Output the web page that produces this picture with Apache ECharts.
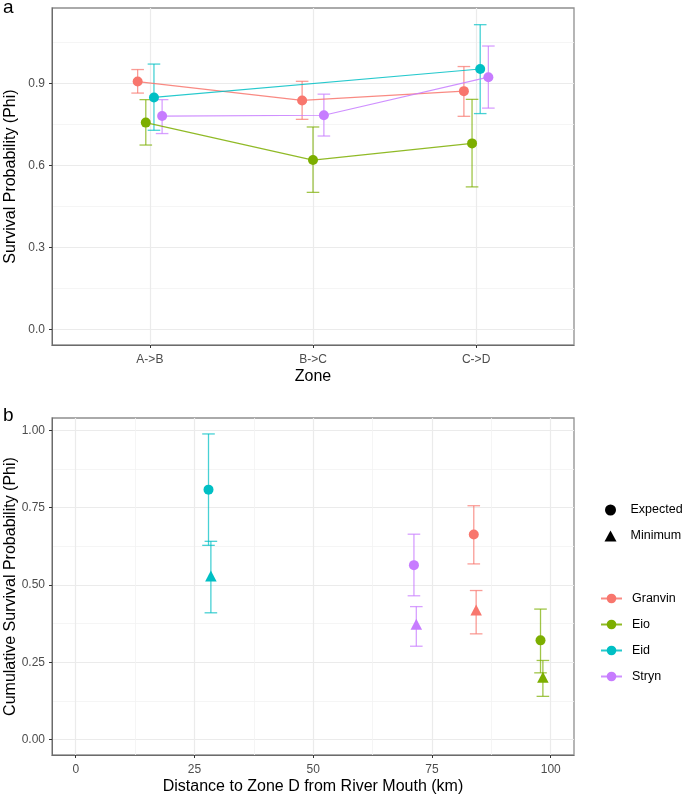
<!DOCTYPE html>
<html><head><meta charset="utf-8">
<script src="https://cdn.jsdelivr.net/npm/echarts@6/dist/echarts.min.js"></script>
<style>html,body{margin:0;padding:0;background:#fff}#c{width:685px;height:797px}</style>
</head><body><div id="c"></div>
<script>
// ---------- data ----------
const sites = ['Granvin', 'Eio', 'Eid', 'Stryn'];
const siteColors = ['#F8766D', '#7CAE00', '#00BFC4', '#C77CFF'];
const zones = ['A->B', 'B->C', 'C->D'];

// Panel a: survival per zone (null = no estimate)
const phiGranvin  = [0.907, 0.838, 0.872];
const lowGranvin  = [0.865, 0.769, 0.780];
const highGranvin = [0.951, 0.908, 0.962];
const phiEio  = [0.757, 0.620, 0.681];
const lowEio  = [0.675, 0.502, 0.522];
const highEio = [0.841, 0.741, 0.842];
const phiEid  = [0.849, null, 0.953];
const lowEid  = [0.729, null, 0.790];
const highEid = [0.971, null, 1.115];
const phiStryn  = [0.781, 0.784, 0.923];
const lowStryn  = [0.717, 0.708, 0.810];
const highStryn = [0.841, 0.861, 1.037];

// Panel b: cumulative survival vs distance (order: Granvin, Eio, Eid, Stryn)
const estimateTypes = ['Expected', 'Minimum'];
const distanceKm = [84.05, 98.1, 28.2, 71.45];
const cumExpected     = [0.663, 0.321, 0.808, 0.564];
const cumExpectedLow  = [0.568, 0.216, 0.628, 0.465];
const cumExpectedHigh = [0.756, 0.422, 0.988, 0.664];
const cumMinimum      = [0.413, 0.196, 0.523, 0.367];
const cumMinimumLow   = [0.342, 0.140, 0.410, 0.302];
const cumMinimumHigh  = [0.482, 0.256, 0.641, 0.430];

// tick labels
const yTicksA = [0, 0.3, 0.6, 0.9];
const yMinorA = [0.15, 0.45, 0.75, 1.05];
const xTicksB = [0, 25, 50, 75, 100];
const xMinorB = [12.5, 37.5, 62.5, 87.5];
const yTicksB = [0, 0.25, 0.5, 0.75, 1.0];
const yMinorB = [0.125, 0.375, 0.625, 0.875];

// ---------- build ----------
const phiA = [phiGranvin, phiEio, phiEid, phiStryn];
const lowA = [lowGranvin, lowEio, lowEid, lowStryn];
const highA = [highGranvin, highEio, highEid, highStryn];

// dodge like ggplot position_dodge(width)
function dodgeOffset(k, n, width) { return (k - (n - 1) / 2) * (width / n); }

const FONT = '"Liberation Sans", Arial, Helvetica, sans-serif';
const tickLabel = { color: '#4D4D4D', fontSize: 12, fontFamily: FONT };
const majorSplit = { show: true, lineStyle: { color: '#EBEBEB', width: 1.2 } };
const minorSplit = { show: true, lineStyle: { color: '#F3F3F3', width: 0.8 } };
const axLine = { show: true, onZero: false, lineStyle: { color: '#6b6b6b', width: 1 } };
const axTick = { show: true, length: 3, lineStyle: { color: '#333', width: 1 } };
const nameStyle = { color: '#000', fontSize: 16, fontFamily: FONT };

function errorBarRender(params, api) {
  const x = api.value(0), lo = api.value(1), hi = api.value(2);
  const pLo = api.coord([x, lo]), pHi = api.coord([x, hi]);
  const half = 6.3;
  const style = { stroke: api.visual('color'), lineWidth: 1.3, opacity: 0.72 };
  return { type: 'group', children: [
    { type: 'line', shape: { x1: pHi[0], y1: pHi[1], x2: pLo[0], y2: pLo[1] }, style },
    { type: 'line', shape: { x1: pHi[0] - half, y1: pHi[1], x2: pHi[0] + half, y2: pHi[1] }, style },
    { type: 'line', shape: { x1: pLo[0] - half, y1: pLo[1], x2: pLo[0] + half, y2: pLo[1] }, style }
  ]};
}

const series = [];
// panel a
const lineData = sites.map(() => []);
const errData = sites.map(() => []);
zones.forEach((z, j) => {
  const present = sites.map((s, i) => i).filter(i => phiA[i][j] !== null);
  present.forEach((i, k) => {
    const x = j + 1 + dodgeOffset(k, present.length, 0.2);
    lineData[i].push([x, phiA[i][j]]);
    errData[i].push([x, lowA[i][j], highA[i][j]]);
  });
});
sites.forEach((s, i) => {
  series.push({
    type: 'custom', xAxisIndex: 0, yAxisIndex: 0, z: 2,
    itemStyle: { color: siteColors[i] },
    renderItem: errorBarRender, data: errData[i], silent: true
  });
});
sites.forEach((s, i) => {
  series.push({
    type: 'line', name: s, xAxisIndex: 0, yAxisIndex: 0, z: 3,
    data: lineData[i], symbol: 'circle', symbolSize: 10, showSymbol: true,
    itemStyle: { color: siteColors[i], opacity: 1 },
    lineStyle: { color: siteColors[i], width: 1.2, opacity: 0.85 },
    emphasis: { disabled: true }, silent: true
  });
});

// panel b
const estVals = [cumExpected, cumMinimum];
const estLow = [cumExpectedLow, cumMinimumLow];
const estHigh = [cumExpectedHigh, cumMinimumHigh];
const estSymbols = ['circle', 'triangle'];
estimateTypes.forEach((t, e) => {
  const off = dodgeOffset(e, estimateTypes.length, 1);
  series.push({
    type: 'custom', xAxisIndex: 1, yAxisIndex: 2, z: 2, silent: true,
    renderItem: errorBarRender,
    data: sites.map((s, i) => ({ value: [distanceKm[i] + off, estLow[e][i], estHigh[e][i]], itemStyle: { color: siteColors[i] } }))
  });
});
estimateTypes.forEach((t, e) => {
  const off = dodgeOffset(e, estimateTypes.length, 1);
  series.push({
    type: 'scatter', name: t, xAxisIndex: 1, yAxisIndex: 2, z: 3, silent: true,
    symbol: estSymbols[e], symbolSize: e === 0 ? 10 : [11.5, 11],
    symbolOffset: e === 0 ? [0, 0] : [0, -1.8],
    itemStyle: { color: '#000', opacity: 1 },
    emphasis: { disabled: true },
    data: sites.map((s, i) => ({ value: [distanceKm[i] + off, estVals[e][i]], itemStyle: { color: siteColors[i] } }))
  });
});

const gridBase = { width: 522, height: 337, show: true, borderColor: '#8f8f8f', borderWidth: 1.3,
  backgroundColor: 'transparent', containLabel: false, outerBoundsMode: 'none' };

const option = {
  animation: false,
  backgroundColor: '#fff',
  textStyle: { fontFamily: FONT },
  grid: [
    Object.assign({ left: 52, top: 8 }, gridBase),
    Object.assign({ left: 52, top: 418 }, gridBase)
  ],
  xAxis: [
    { type: 'value', gridIndex: 0, min: 0.4, max: 3.6,
      axisLine: axLine, axisTick: Object.assign({ customValues: [1, 2, 3] }, axTick),
      axisLabel: Object.assign({ customValues: [1, 2, 3], margin: 9, formatter: v => zones[Math.round(v) - 1] }, tickLabel),
      splitLine: majorSplit,
      name: 'Zone', nameLocation: 'middle', nameGap: 24, nameMoveOverlap: false, nameTextStyle: nameStyle },
    { type: 'value', gridIndex: 1, min: -5, max: 104.9,
      axisLine: axLine, axisTick: Object.assign({ customValues: xTicksB }, axTick),
      axisLabel: Object.assign({ customValues: xTicksB, margin: 9, formatter: v => String(v) }, tickLabel),
      splitLine: majorSplit,
      name: 'Distance to Zone D from River Mouth (km)', nameLocation: 'middle', nameGap: 24, nameMoveOverlap: false, nameTextStyle: nameStyle },
    { type: 'value', gridIndex: 1, min: -5, max: 104.9, axisLine: { show: false }, axisTick: { show: false, customValues: xMinorB },
      axisLabel: { show: false, customValues: xMinorB }, splitLine: minorSplit }
  ],
  yAxis: [
    { type: 'value', gridIndex: 0, min: -0.056, max: 1.176,
      axisLine: axLine, axisTick: Object.assign({ customValues: yTicksA }, axTick),
      axisLabel: Object.assign({ customValues: yTicksA, margin: 7, formatter: v => v.toFixed(1) }, tickLabel),
      splitLine: majorSplit,
      name: 'Survival Probability (Phi)', nameLocation: 'middle', nameGap: 33, nameRotate: 90, nameMoveOverlap: false, nameTextStyle: nameStyle },
    { type: 'value', gridIndex: 0, min: -0.056, max: 1.176, axisLine: { show: false }, axisTick: { show: false, customValues: yMinorA },
      axisLabel: { show: false, customValues: yMinorA }, splitLine: minorSplit },
    { type: 'value', gridIndex: 1, min: -0.0495, max: 1.0395,
      axisLine: axLine, axisTick: Object.assign({ customValues: yTicksB }, axTick),
      axisLabel: Object.assign({ customValues: yTicksB, margin: 7, formatter: v => v.toFixed(2) }, tickLabel),
      splitLine: majorSplit,
      name: 'Cumulative Survival Probability (Phi)', nameLocation: 'middle', nameGap: 33, nameRotate: 90, nameMoveOverlap: false, nameTextStyle: nameStyle },
    { type: 'value', gridIndex: 1, min: -0.0495, max: 1.0395, axisLine: { show: false }, axisTick: { show: false, customValues: yMinorB },
      axisLabel: { show: false, customValues: yMinorB }, splitLine: minorSplit }
  ],
  legend: [
    { data: estimateTypes, orient: 'vertical', left: 604.5, top: 503.5, itemWidth: 12, itemHeight: 11, itemGap: 13,
      padding: 0, selectedMode: false, symbolKeepAspect: true,
      textStyle: { color: '#000', fontSize: 12.5, fontFamily: FONT, padding: [0, 0, 0, 9] } },
    { data: sites, orient: 'vertical', left: 600, top: 592, itemWidth: 21, itemHeight: 12, itemGap: 13,
      padding: 0, selectedMode: false, lineStyle: { width: 2 },
      textStyle: { color: '#000', fontSize: 12.5, fontFamily: FONT, padding: [0, 0, 0, 5] } }
  ],
  graphic: [
    { type: 'text', left: 3, top: -2, style: { text: 'a', fontSize: 19, fontFamily: FONT, fill: '#000' } },
    { type: 'text', left: 3, top: 406, style: { text: 'b', fontSize: 19, fontFamily: FONT, fill: '#000' } }
  ],
  series: series
};
const chart = echarts.init(document.getElementById('c'), null, { renderer: 'canvas' });
chart.setOption(option);
</script></body></html>
